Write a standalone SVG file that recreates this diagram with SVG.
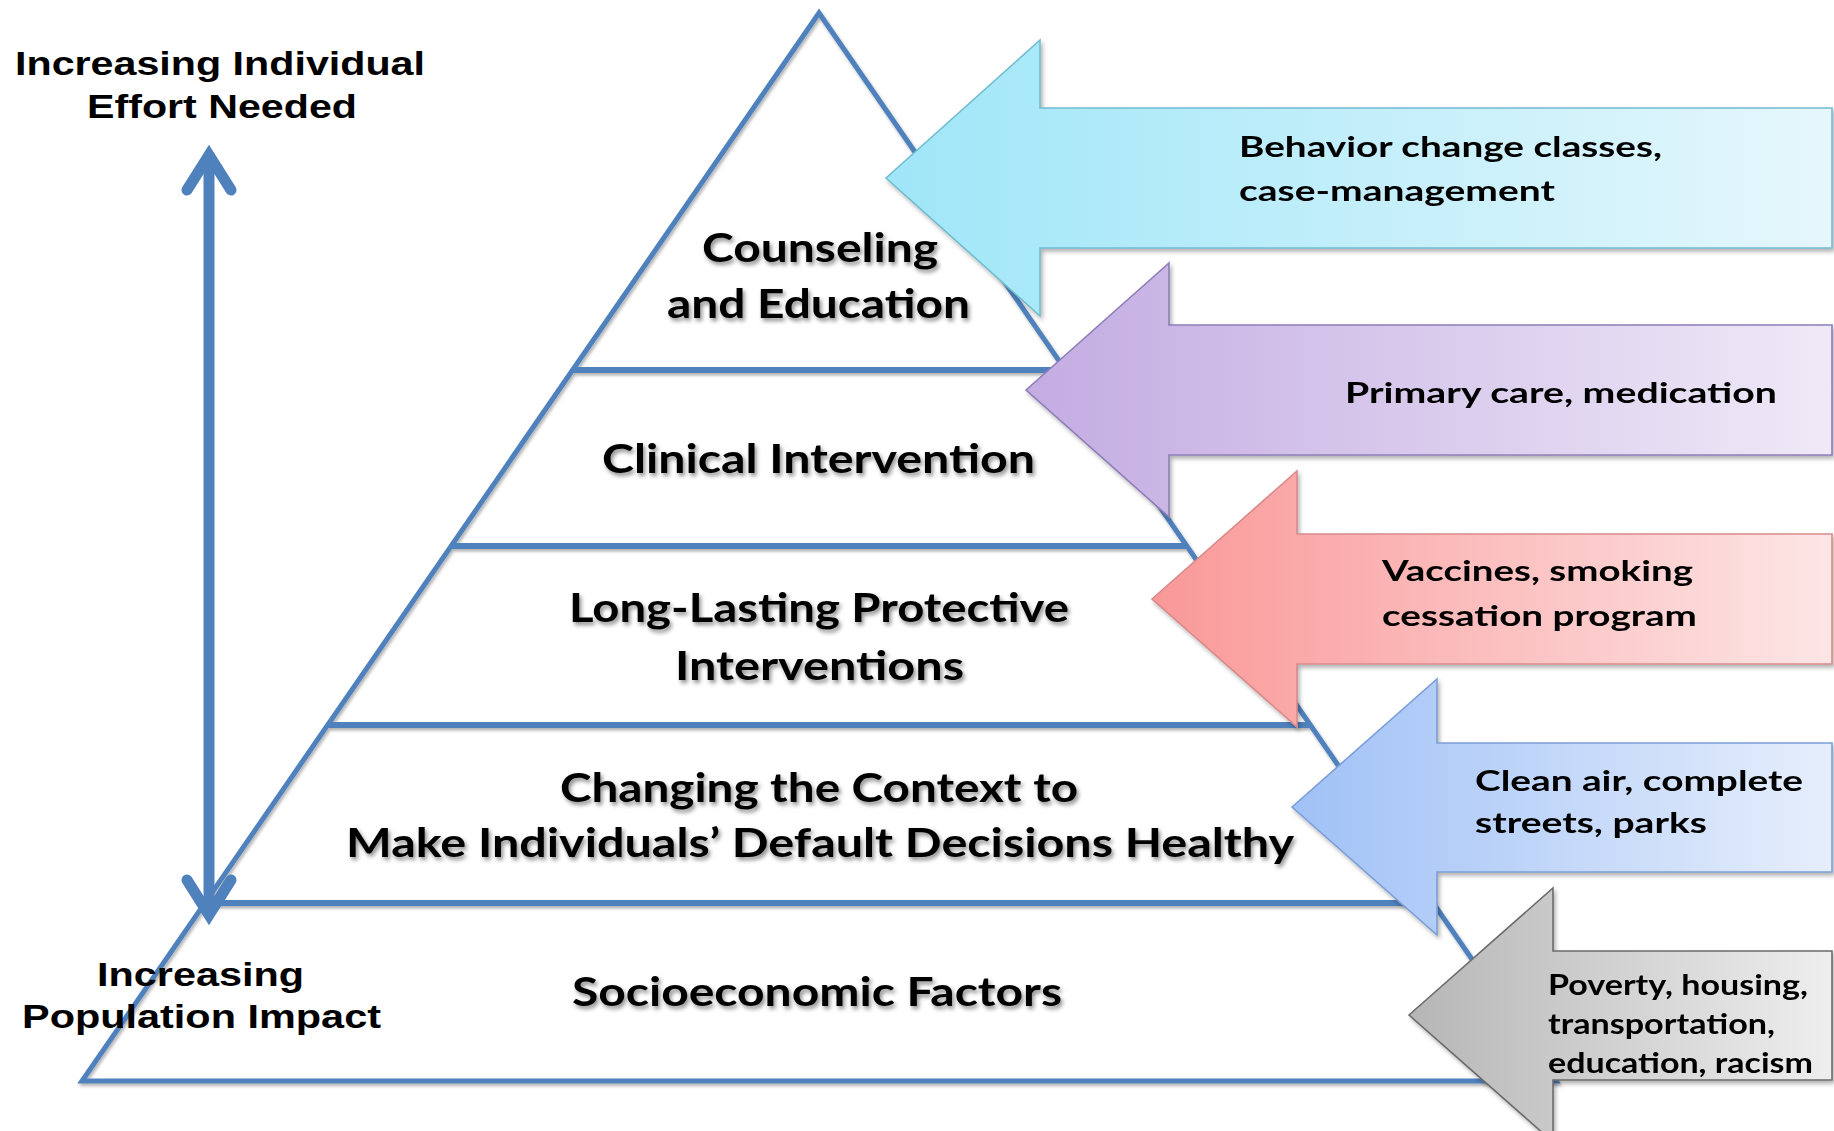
<svg xmlns="http://www.w3.org/2000/svg" width="1834" height="1131" viewBox="0 0 1834 1131">
  <defs>
    <style>
      .edge { fill: none; stroke: #4f81bd; stroke-width: 5; stroke-linejoin: miter; }
      .divider { fill: none; stroke: #4f81bd; stroke-width: 6; }
      .tier { font-family: Lato, "Open Sans", "Liberation Sans", sans-serif; font-weight: bold; font-size: 41px; fill: #000; }
      .note { font-family: Lato, "Open Sans", "Liberation Sans", sans-serif; font-weight: bold; font-size: 29px; fill: #000; }
      .axis { font-family: "Liberation Sans", Arial, sans-serif; font-weight: bold; font-size: 34px; fill: #000; }
      .axisline { fill: none; stroke: #4f81bd; stroke-width: 11; stroke-linecap: round; stroke-linejoin: miter; }
      .arrow { stroke-width: 1.6; stroke-linejoin: miter; }
    </style>
    <filter id="textShadow" x="-5%" y="-40%" width="110%" height="180%">
      <feDropShadow dx="2" dy="3" stdDeviation="2" flood-color="#000" flood-opacity="0.45"/>
    </filter>
    <filter id="lineShadow" x="-5%" y="-5%" width="110%" height="110%">
      <feDropShadow dx="1.5" dy="2.5" stdDeviation="1.5" flood-color="#000" flood-opacity="0.3"/>
    </filter>
    <filter id="arrowShadow" x="-5%" y="-5%" width="110%" height="115%">
      <feDropShadow dx="2" dy="3" stdDeviation="2" flood-color="#000" flood-opacity="0.3"/>
    </filter>
    <linearGradient id="gCyan" x1="0" y1="0" x2="1" y2="0">
      <stop offset="0" stop-color="#9fe6f8"/>
      <stop offset="1" stop-color="#e6f7fc"/>
    </linearGradient>
    <linearGradient id="gPurple" x1="0" y1="0" x2="1" y2="0">
      <stop offset="0" stop-color="#c3ace2"/>
      <stop offset="1" stop-color="#efe9f7"/>
    </linearGradient>
    <linearGradient id="gRed" x1="0" y1="0" x2="1" y2="0">
      <stop offset="0" stop-color="#fa9898"/>
      <stop offset="1" stop-color="#fde6e6"/>
    </linearGradient>
    <linearGradient id="gBlue" x1="0" y1="0" x2="1" y2="0">
      <stop offset="0" stop-color="#a0c1f6"/>
      <stop offset="1" stop-color="#e6eefc"/>
    </linearGradient>
    <linearGradient id="gGray" x1="0" y1="0" x2="1" y2="0">
      <stop offset="0" stop-color="#b6b6b6"/>
      <stop offset="1" stop-color="#eeeeee"/>
    </linearGradient>
  </defs>

  <rect width="1834" height="1131" fill="#ffffff"/>

  <!-- pyramid outline and tier dividers -->
  <g id="pyramid" filter="url(#lineShadow)">
    <polygon class="edge" points="819,13 82,1081 1556,1081"/>
    <line class="divider" x1="572.6" y1="370" x2="1065.4" y2="370"/>
    <line class="divider" x1="451.2" y1="546" x2="1186.8" y2="546"/>
    <line class="divider" x1="327.7" y1="725" x2="1310.3" y2="725"/>
    <line class="divider" x1="204.8" y1="903" x2="1433.2" y2="903"/>
  </g>

  <!-- vertical double-headed axis arrow -->
  <g id="connectors">
    <line class="axisline" x1="209" y1="160" x2="209" y2="912"/>
    <polyline class="axisline" points="187,190 209,155 231,190"/>
    <polyline class="axisline" points="187,880 209,915 231,880"/>
  </g>

  <!-- axis labels -->
  <g id="label-effort">
    <text class="axis" x="15" y="75" textLength="410" lengthAdjust="spacingAndGlyphs">Increasing Individual</text>
    <text class="axis" x="87" y="118" textLength="270" lengthAdjust="spacingAndGlyphs">Effort Needed</text>
  </g>
  <g id="label-impact">
    <text class="axis" x="97" y="986" textLength="207" lengthAdjust="spacingAndGlyphs">Increasing</text>
    <text class="axis" x="22" y="1028" textLength="359" lengthAdjust="spacingAndGlyphs">Population Impact</text>
  </g>

  <!-- example arrows, pointing into the pyramid -->
  <g id="arrow-counseling" filter="url(#arrowShadow)">
    <polygon class="arrow" fill="url(#gCyan)" stroke="#72bccf" points="886,178 1040,40 1040,108 1832,108 1832,248 1040,248 1040,316"/>
    <text class="note" x="1239" y="157" textLength="423" lengthAdjust="spacingAndGlyphs">Behavior change classes,</text>
    <text class="note" x="1239" y="201" textLength="316" lengthAdjust="spacingAndGlyphs">case-management</text>
  </g>
  <g id="arrow-clinical" filter="url(#arrowShadow)">
    <polygon class="arrow" fill="url(#gPurple)" stroke="#8e7db8" points="1026,390 1169,263 1169,325 1832,325 1832,455 1169,455 1169,517"/>
    <text class="note" x="1345" y="403" textLength="432" lengthAdjust="spacingAndGlyphs">Primary care, medication</text>
  </g>
  <g id="arrow-protective" filter="url(#arrowShadow)">
    <polygon class="arrow" fill="url(#gRed)" stroke="#d98a8a" points="1152,599 1297,471 1297,534 1832,534 1832,664 1297,664 1297,727"/>
    <text class="note" x="1382" y="581" textLength="311" lengthAdjust="spacingAndGlyphs">Vaccines, smoking</text>
    <text class="note" x="1382" y="626" textLength="315" lengthAdjust="spacingAndGlyphs">cessation program</text>
  </g>
  <g id="arrow-context" filter="url(#arrowShadow)">
    <polygon class="arrow" fill="url(#gBlue)" stroke="#7c9ed8" points="1292,807 1437,679 1437,743 1832,743 1832,872 1437,872 1437,935"/>
    <text class="note" x="1475" y="791" textLength="328" lengthAdjust="spacingAndGlyphs">Clean air, complete</text>
    <text class="note" x="1475" y="833" textLength="232" lengthAdjust="spacingAndGlyphs">streets, parks</text>
  </g>
  <g id="arrow-socioeconomic" filter="url(#arrowShadow)">
    <polygon class="arrow" fill="url(#gGray)" stroke="#6b6b6b" points="1409,1015 1553,888 1553,951 1832,951 1832,1080 1553,1080 1553,1142"/>
    <text class="note" x="1548" y="995" textLength="260" lengthAdjust="spacingAndGlyphs">Poverty, housing,</text>
    <text class="note" x="1548" y="1034" textLength="227" lengthAdjust="spacingAndGlyphs">transportation,</text>
    <text class="note" x="1548" y="1073" textLength="265" lengthAdjust="spacingAndGlyphs">education, racism</text>
  </g>

  <!-- pyramid tier labels -->
  <g id="tier-counseling" filter="url(#textShadow)">
    <text class="tier" x="702" y="262" textLength="236" lengthAdjust="spacingAndGlyphs">Counseling</text>
    <text class="tier" x="667" y="318" textLength="303" lengthAdjust="spacingAndGlyphs">and Education</text>
  </g>
  <g id="tier-clinical" filter="url(#textShadow)">
    <text class="tier" x="602" y="473" textLength="433" lengthAdjust="spacingAndGlyphs">Clinical Intervention</text>
  </g>
  <g id="tier-protective" filter="url(#textShadow)">
    <text class="tier" x="569" y="622" textLength="500" lengthAdjust="spacingAndGlyphs">Long-Lasting Protective</text>
    <text class="tier" x="675" y="680" textLength="289" lengthAdjust="spacingAndGlyphs">Interventions</text>
  </g>
  <g id="tier-context" filter="url(#textShadow)">
    <text class="tier" x="560" y="802" textLength="518" lengthAdjust="spacingAndGlyphs">Changing the Context to</text>
    <text class="tier" x="346" y="857" textLength="948" lengthAdjust="spacingAndGlyphs">Make Individuals’ Default Decisions Healthy</text>
  </g>
  <g id="tier-socioeconomic" filter="url(#textShadow)">
    <text class="tier" x="572" y="1006" textLength="490" lengthAdjust="spacingAndGlyphs">Socioeconomic Factors</text>
  </g>
</svg>
